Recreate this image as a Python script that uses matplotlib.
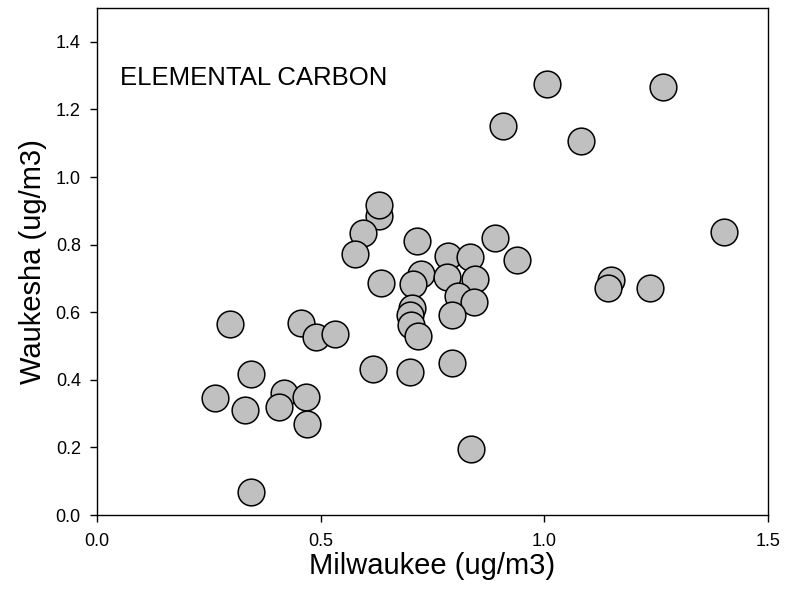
import matplotlib
matplotlib.use("Agg")
import matplotlib.pyplot as plt
from matplotlib.ticker import FormatStrFormatter

plt.rcParams['font.family'] = ['Liberation Sans', 'DejaVu Sans']

# EC concentrations, paired samples
milwaukee = [1.007, 1.266, 0.907, 1.082, 1.402, 1.149, 1.143, 1.237, 0.890, 0.938,
             0.631, 0.631, 0.595, 0.577, 0.715, 0.784, 0.833, 0.635, 0.725, 0.706,
             0.782, 0.846, 0.806, 0.842, 0.793, 0.705, 0.699, 0.702, 0.718, 0.617,
             0.699, 0.794, 0.836, 0.297, 0.455, 0.489, 0.531, 0.344, 0.419, 0.467,
             0.406, 0.331, 0.470, 0.345, 0.263]
waukesha = [1.275, 1.265, 1.152, 1.107, 0.838, 0.695, 0.671, 0.673, 0.820, 0.755,
            0.886, 0.917, 0.835, 0.772, 0.812, 0.767, 0.764, 0.686, 0.712, 0.684,
            0.705, 0.698, 0.648, 0.631, 0.593, 0.612, 0.591, 0.562, 0.531, 0.432,
            0.424, 0.449, 0.194, 0.565, 0.567, 0.528, 0.535, 0.416, 0.362, 0.350,
            0.319, 0.311, 0.270, 0.067, 0.346]

fig = plt.figure(figsize=(7.87, 5.93), dpi=100)
ax = fig.add_axes([0.1233, 0.1315, 0.8526, 0.855])

ax.scatter(milwaukee, waukesha, s=370, c='#c0c0c0', edgecolors='black',
           linewidths=1.1, zorder=3, clip_on=False)

ax.set_xlim(0, 1.5)
ax.set_ylim(0, 1.5)
ax.set_xticks([0.0, 0.5, 1.0, 1.5])
ax.set_yticks([0.0, 0.2, 0.4, 0.6, 0.8, 1.0, 1.2, 1.4])
ax.xaxis.set_major_formatter(FormatStrFormatter('%.1f'))
ax.yaxis.set_major_formatter(FormatStrFormatter('%.1f'))
ax.tick_params(direction='out', length=4.7, width=1, labelsize=13)
ax.tick_params(axis='x', pad=8)
ax.tick_params(axis='y', pad=7)
for sp in ax.spines.values():
    sp.set_linewidth(1)

ax.set_xlabel('Milwaukee (ug/m3)', fontsize=21, labelpad=2)
ax.set_ylabel('Waukesha (ug/m3)', fontsize=21, labelpad=6)
ax.text(0.051, 1.293, 'ELEMENTAL CARBON', fontsize=18.5, ha='left', va='center')

fig.savefig('out.png', dpi=100)
